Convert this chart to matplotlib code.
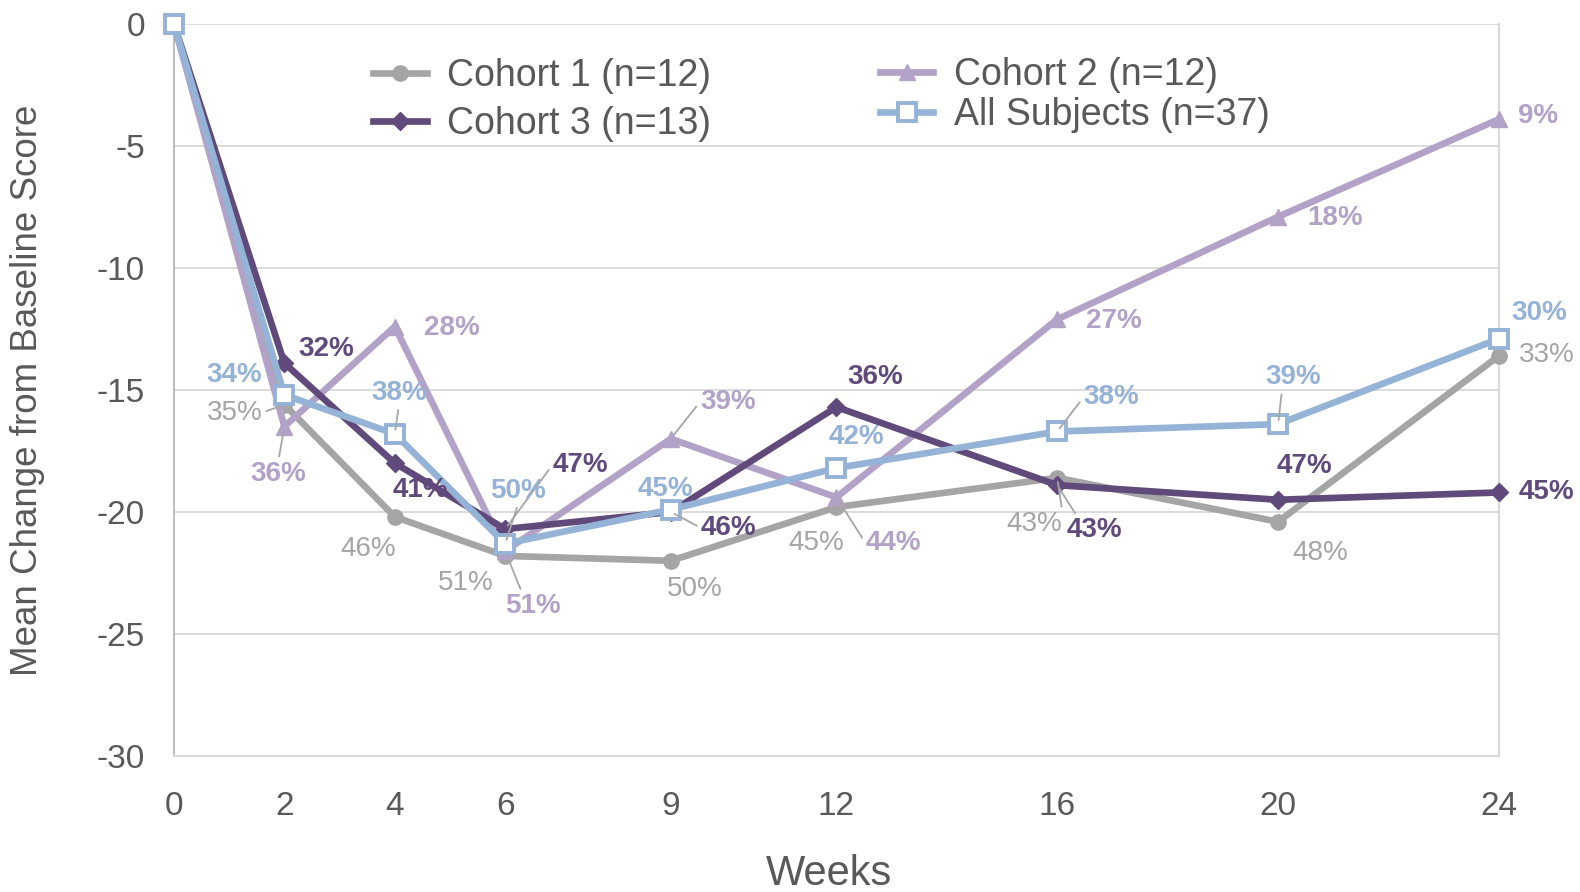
import matplotlib
matplotlib.use("Agg")
import matplotlib.pyplot as plt

plt.rcParams['font.family'] = ['Liberation Sans', 'DejaVu Sans']
plt.rcParams['axes.unicode_minus'] = False

# 数据
weeks = [0, 2, 4, 6, 9, 12, 16, 20, 24]
cohort1 = [0, -15.6, -20.2, -21.8, -22.0, -19.8, -18.6, -20.4, -13.6]
cohort2 = [0, -16.5, -12.4, -21.6, -17.0, -19.4, -12.1, -7.9, -3.9]
cohort3 = [0, -13.9, -18.0, -20.7, -20.0, -15.7, -18.9, -19.5, -19.2]
all_subj = [0, -15.2, -16.8, -21.3, -19.9, -18.2, -16.7, -16.4, -12.9]

pct1 = ['', '35%', '46%', '51%', '50%', '45%', '43%', '48%', '33%']
pct2 = ['', '36%', '28%', '51%', '39%', '44%', '27%', '18%', '9%']
pct3 = ['', '32%', '41%', '47%', '46%', '36%', '43%', '47%', '45%']
pct_all = ['', '34%', '38%', '50%', '45%', '42%', '38%', '39%', '30%']

names = ['Cohort 1 (n=12)', 'Cohort 2 (n=12)', 'Cohort 3 (n=13)', 'All Subjects (n=37)']

# 标签偏移（像素）与引导线
off1 = [None, (-50, -8), (-27, -32), (-39, -27), (24, -28), (-20, -36), (-23, -46), (42, -31), (48, 1)]
off2 = [None, (-6, -47), (57, -1), (28, -55), (57, 37), (57, -46), (57, -2), (57, -1), (39, 3)]
off3 = [None, (42, 14), (26, -27), (75, 64), (58, -16), (39, 30), (37, -45), (26, 34), (47, 0)]
off_all = [None, (-50, 20), (4, 41), (13, 53), (-5, 21), (20, 31), (54, 34), (15, 47), (40, 26)]

lead1 = {1: (1, 0.5), 6: (1, 1)}
lead2 = {1: (0.5, 1), 3: (0.3, 1), 4: (0, 0.5), 5: (0, 0.5)}
lead3 = {3: (0, 0.5), 4: (0, 0.5), 6: (0.2, 1)}
lead_all = {2: (0.5, 0), 3: (0.5, 0), 6: (0, 0.5), 7: (0.3, 0)}

TXT = '#595959'
GRID = '#D9D9D9'
LEAD = '#A6A6A6'

fig = plt.figure(figsize=(15.8, 8.92), dpi=100)
ax = fig.add_axes([0.1101, 0.1525, 0.8386, 0.8206])

series = [
    (cohort1, pct1, off1, lead1, '#A5A5A5', 'o', dict(ms=11), 'normal'),
    (cohort2, pct2, off2, lead2, '#B3A2C7', '^', dict(ms=12), 'bold'),
    (cohort3, pct3, off3, lead3, '#604A7B', 'D', dict(ms=9), 'bold'),
    (all_subj, pct_all, off_all, lead_all, '#95B3D7', 's',
     dict(ms=13, mfc='white', mew=2.8), 'bold'),
]

handles = []
for i, (vals, pcts, offs, leads, col, mk, mkw, fw) in enumerate(series):
    ln, = ax.plot(weeks, vals, color=col, lw=4.8, marker=mk, mec=col,
                  mfc=mkw.pop('mfc', col), label=names[i], zorder=3 + i,
                  solid_joinstyle='miter', clip_on=False, **mkw)
    handles.append(ln)
    for j, (x, y) in enumerate(zip(weeks, vals)):
        if not pcts[j]:
            continue
        kw = {}
        if j in leads:
            kw['arrowprops'] = dict(arrowstyle='-', color=LEAD, lw=1.3,
                                    shrinkA=1, shrinkB=3, relpos=leads[j])
        ax.annotate(pcts[j], (x, y), xytext=offs[j], textcoords='offset pixels',
                    ha='center', va='center', fontsize=20, color=col,
                    fontweight=fw, zorder=10, **kw)

ax.set_xlim(0, 24)
ax.set_ylim(-30, 0)
ax.set_xticks(weeks)
ax.set_xticklabels([str(w) for w in weeks])
ax.set_yticks(range(-30, 1, 5))
ax.tick_params(axis='both', length=0, labelsize=24, colors=TXT)
ax.tick_params(axis='x', pad=25)
ax.tick_params(axis='y', pad=21)
ax.grid(axis='y', color=GRID, lw=1.3, zorder=0)
ax.set_axisbelow(True)
ax.spines['top'].set_visible(False)
ax.spines['left'].set_color('#BFBFBF')
ax.spines['bottom'].set_color(GRID)
ax.spines['right'].set_color(GRID)
for s in ['left', 'bottom', 'right']:
    ax.spines[s].set_linewidth(1.5)

ax.set_xlabel('Weeks', fontsize=30, color=TXT)
ax.set_ylabel('Mean Change from Baseline Score', fontsize=26.5, color=TXT)
ax.xaxis.set_label_coords(0.494, -0.134)
ax.yaxis.set_label_coords(-0.097, 0.5)

leg_kw = dict(frameon=False, fontsize=27, handlelength=1.42, handletextpad=0.55,
              borderpad=0, borderaxespad=0, labelcolor=TXT, loc='center left')
leg1 = ax.legend([handles[0], handles[2]], [names[0], names[2]],
                 bbox_to_anchor=(0.1505, 0.896), labelspacing=0.3, **leg_kw)
ax.add_artist(leg1)
ax.legend([handles[1], handles[3]], [names[1], names[3]],
          bbox_to_anchor=(0.533, 0.903), labelspacing=0.12, **leg_kw)

fig.savefig('out.png', dpi=100)
